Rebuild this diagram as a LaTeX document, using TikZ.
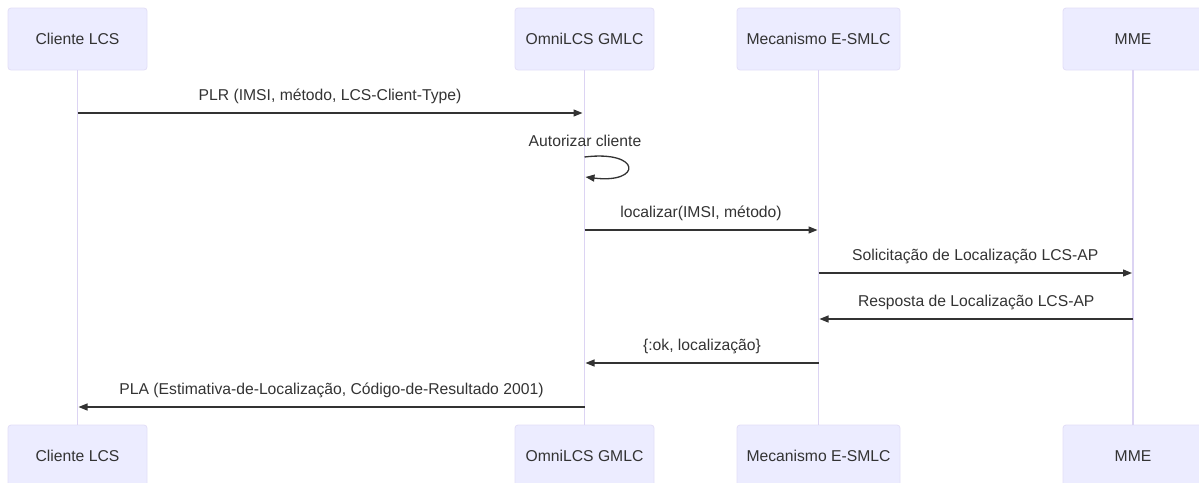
\documentclass[tikz,border=0pt]{standalone}
\usepackage{fontspec}
\setmainfont{Liberation Sans}
\usetikzlibrary{arrows.meta}
\definecolor{actfill}{HTML}{ECECFF}
\definecolor{actline}{HTML}{E2DEF7}
\definecolor{lifec}{HTML}{DCD4F3}
\definecolor{msgc}{HTML}{333333}
\begin{document}
\begin{tikzpicture}[x=1pt,y=-1pt,
  actor/.style={draw=actline, fill=actfill, rounded corners=3pt, minimum height=62pt,
    inner sep=0pt, font=\fontsize{15.7}{18}\selectfont, text=msgc, line width=0.8pt},
  life/.style={draw=lifec, line width=1.2pt},
  msg/.style={draw=msgc, line width=1.3pt, -{Triangle[length=9pt,width=7pt]}},
  lbl/.style={font=\fontsize{15.7}{18}\selectfont, text=msgc, inner sep=0pt}]
\useasboundingbox (0,0) rectangle (1199,482);
% top actors
\node[actor, minimum width=139pt] (t1) at (77.5,39) {Cliente LCS};
\node[actor, minimum width=139pt] (t2) at (584.5,39) {OmniLCS GMLC};
\node[actor, minimum width=163pt] (t3) at (818.5,39) {Mecanismo E-SMLC};
\node[actor, minimum width=140pt] (t4) at (1133,39) {MME};
% bottom actors
\node[actor, minimum width=139pt] (b1) at (77.5,456) {Cliente LCS};
\node[actor, minimum width=139pt] (b2) at (584.5,456) {OmniLCS GMLC};
\node[actor, minimum width=163pt] (b3) at (818.5,456) {Mecanismo E-SMLC};
\node[actor, minimum width=140pt] (b4) at (1133,456) {MME};
% lifelines
\begin{scope}[on background layer/.try]
\end{scope}
\draw[life] (t1.south) -- (b1.north);
\draw[life] (t2.south) -- (b2.north);
\draw[life] (t3.south) -- (b3.north);
\draw[life] (t4.south) -- (b4.north);
% message end points
\coordinate (m1a) at (77.5,113);  \coordinate (m1b) at (582.5,113);
\coordinate (s1a) at (584.5,157); \coordinate (s1b) at (585.5,177);
\coordinate (m2a) at (584.5,230); \coordinate (m2b) at (817.5,230);
\coordinate (m3a) at (818.5,273); \coordinate (m3b) at (1132,273);
\coordinate (m4a) at (1133,319);  \coordinate (m4b) at (819.5,319);
\coordinate (m5a) at (818.5,363); \coordinate (m5b) at (585.5,363);
\coordinate (m6a) at (584.5,407); \coordinate (m6b) at (78.5,407);
% messages
\draw[msg] (m1a) -- node[lbl, above=9pt] (l1) {PLR (IMSI, método, LCS-Client-Type)} (m1b);
\node[lbl] (l2) at (585,141) {Autorizar cliente};
\draw[msg] (s1a) .. controls (642,150) and (642,184) .. (s1b);
\draw[msg] (m2a) -- node[lbl, above=9pt] (l3) {localizar(IMSI, método)} (m2b);
\draw[msg] (m3a) -- node[lbl, above=9pt] (l4) {Solicitação de Localização LCS-AP} (m3b);
\draw[msg] (m4a) -- node[lbl, above=9pt] (l5) {Resposta de Localização LCS-AP} (m4b);
\draw[msg] (m5a) -- node[lbl, above=9pt] (l6) {\{:ok, localização\}} (m5b);
\draw[msg] (m6a) -- node[lbl, above=9pt] (l7) {PLA (Estimativa-de-Localização, Código-de-Resultado 2001)} (m6b);
\end{tikzpicture}
\end{document}
